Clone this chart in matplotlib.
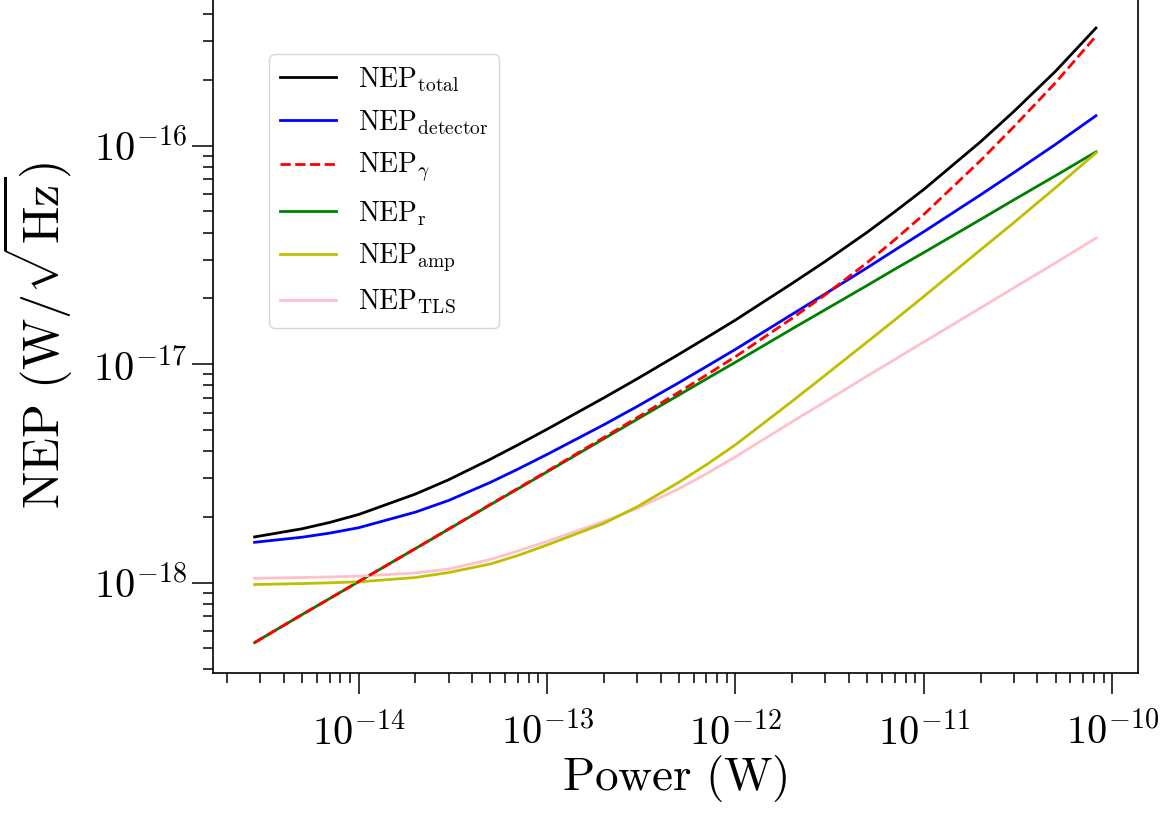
import matplotlib
matplotlib.use("Agg")
import matplotlib.pyplot as plt

plt.rcParams['mathtext.fontset'] = 'cm'
plt.rcParams['font.family'] = 'serif'
plt.rcParams['font.serif'] = ['cmr10', 'DejaVu Serif']
plt.rcParams['axes.formatter.use_mathtext'] = True

# values (W and W/sqrt(Hz))
power = [2.8e-15, 5e-15, 7e-15, 1e-14, 2e-14, 3e-14, 5e-14, 7e-14,
         1e-13, 2e-13, 3e-13, 5e-13, 7e-13, 1e-12, 2e-12, 3e-12,
         5e-12, 7e-12, 1e-11, 2e-11, 3e-11, 5e-11, 8.2e-11]
nep_total = [1.617e-18, 1.762e-18, 1.883e-18, 2.049e-18, 2.541e-18, 2.954e-18, 3.668e-18, 4.266e-18,
             5.032e-18, 7.004e-18, 8.549e-18, 1.108e-17, 1.319e-17, 1.591e-17, 2.341e-17, 2.952e-17,
             4.01e-17, 4.976e-17, 6.302e-17, 1.041e-16, 1.431e-16, 2.189e-16, 3.453e-16]
nep_detector = [1.528e-18, 1.612e-18, 1.683e-18, 1.782e-18, 2.10e-18, 2.375e-18, 2.874e-18, 3.305e-18,
                3.859e-18, 5.273e-18, 6.39e-18, 8.213e-18, 9.736e-18, 1.168e-17, 1.690e-17, 2.097e-17,
                2.759e-17, 3.322e-17, 4.036e-17, 5.95e-17, 7.513e-17, 1.013e-16, 1.370e-16]
nep_gamma = [5.31e-19, 7.13e-19, 8.44e-19, 1.01e-18, 1.43e-18, 1.757e-18, 2.28e-18, 2.697e-18,
             3.23e-18, 4.61e-18, 5.68e-18, 7.43e-18, 8.90e-18, 1.081e-17, 1.62e-17, 2.078e-17,
             2.91e-17, 3.705e-17, 4.84e-17, 8.54e-17, 1.218e-16, 1.94e-16, 3.17e-16]
nep_r = [5.31e-19, 7.13e-19, 8.44e-19, 1.01e-18, 1.43e-18, 1.754e-18, 2.27e-18, 2.685e-18,
         3.21e-18, 4.55e-18, 5.58e-18, 7.21e-18, 8.54e-18, 1.02e-17, 1.45e-17, 1.775e-17,
         2.29e-17, 2.716e-17, 3.24e-17, 4.59e-17, 5.64e-17, 7.28e-17, 9.36e-17]
nep_amp = [9.79e-19, 9.89e-19, 9.97e-19, 1.007e-18, 1.054e-18, 1.111e-18, 1.216e-18, 1.330e-18,
           1.486e-18, 1.865e-18, 2.219e-18, 2.875e-18, 3.459e-18, 4.272e-18, 6.76e-18, 8.904e-18,
           1.262e-17, 1.591e-17, 2.040e-17, 3.334e-17, 4.434e-17, 6.417e-17, 9.26e-17]
nep_tls = [1.046e-18, 1.054e-18, 1.061e-18, 1.070e-18, 1.106e-18, 1.153e-18, 1.275e-18, 1.395e-18,
           1.542e-18, 1.905e-18, 2.184e-18, 2.684e-18, 3.145e-18, 3.764e-18, 5.447e-18, 6.730e-18,
           8.81e-18, 1.049e-17, 1.262e-17, 1.807e-17, 2.232e-17, 2.905e-17, 3.772e-17]

fig = plt.figure(figsize=(11.64, 8.21), dpi=100)
ax = fig.add_axes([0.1826, 0.1799, 0.7951, 0.8234])

lw = 2
ax.plot(power, nep_total, color='k', lw=lw, label=r'$\mathrm{NEP_{total}}$')
ax.plot(power, nep_detector, color='b', lw=lw, label=r'$\mathrm{NEP_{detector}}$')
ax.plot(power, nep_gamma, color='r', ls='--', lw=lw, zorder=3, label=r'$\mathrm{NEP}_{\gamma}$')
ax.plot(power, nep_r, color='g', lw=lw, label=r'$\mathrm{NEP_{r}}$')
ax.plot(power, nep_amp, color='y', lw=lw, zorder=2.5, label=r'$\mathrm{NEP_{amp}}$')
ax.plot(power, nep_tls, color='pink', lw=lw, label=r'$\mathrm{NEP_{TLS}}$')

ax.set_xscale('log')
ax.set_yscale('log')
ax.set_xlabel(r'$\mathrm{Power\ (W)}$', fontsize=34, labelpad=0)
ax.set_ylabel(r'$\mathrm{NEP\ (W/\sqrt{Hz})}$', fontsize=36, labelpad=14)
ax.tick_params(which='major', labelsize=29, length=15, width=1.1)
ax.tick_params(which='minor', length=7.5, width=1.1)
ax.tick_params(axis='x', which='major', pad=13)
for s in ax.spines.values():
    s.set_linewidth(1.2)

ax.legend(loc='upper left', bbox_to_anchor=(0.061, 0.916), borderaxespad=0, fontsize=20)

plt.savefig("out.png", dpi=100)
